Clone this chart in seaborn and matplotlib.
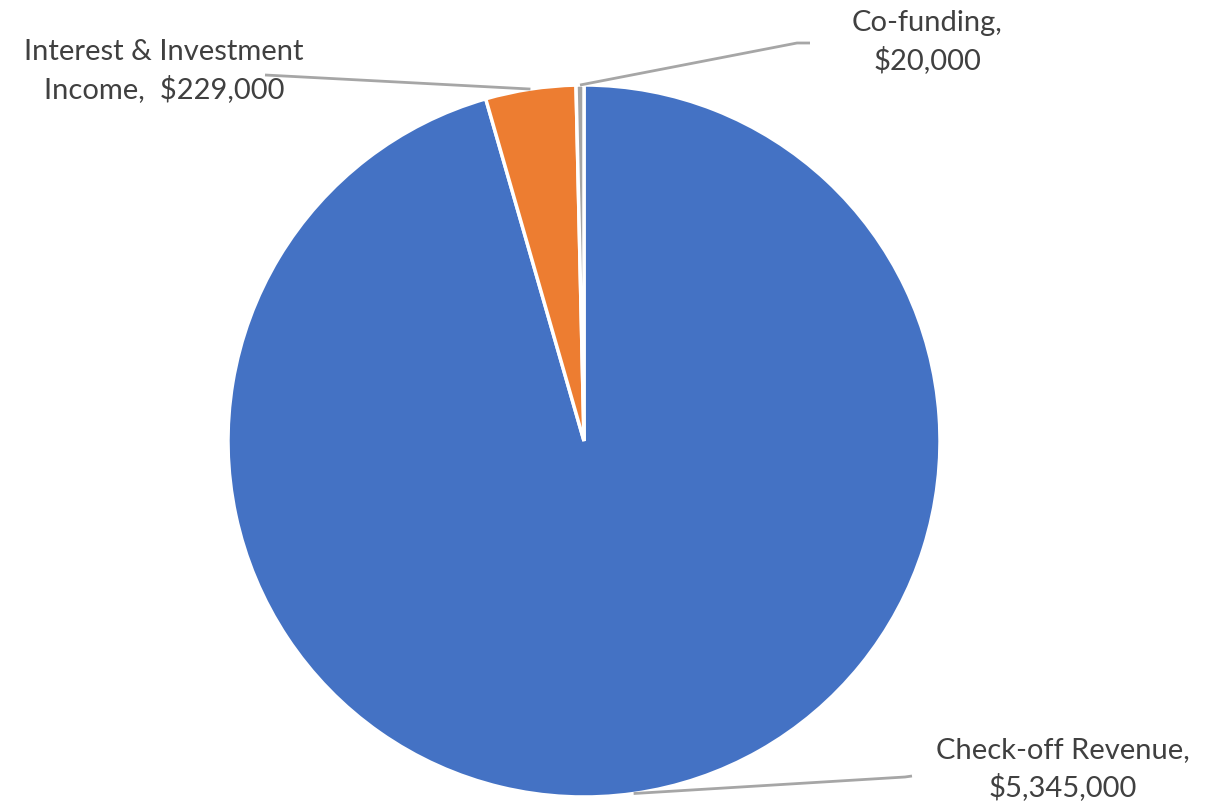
import numpy as np
import matplotlib
matplotlib.use("Agg")
import matplotlib.pyplot as plt
import seaborn as sns

categories = ["Check-off Revenue", "Interest & Investment Income", "Co-funding"]
values = [5345000, 229000, 20000]
label_texts = ["Check-off Revenue,\n$5,345,000",
               "Interest & Investment\nIncome,  $229,000",
               "Co-funding,\n$20,000"]
colors = ["#4472C4", "#ED7D31", "#A5A5A5"]

sns.set_theme(style="white")
plt.rcParams['font.family'] = ['Lato', 'DejaVu Sans']

W, H = 1215, 807
fig = plt.figure(figsize=(W / 100, H / 100), dpi=100)
cx, cy, r = 584, 441, 356
ax = fig.add_axes([(cx - r) / W, (H - cy - r) / H, 2 * r / W, 2 * r / H])

wedges, _ = ax.pie(values, colors=colors, startangle=90, counterclock=False,
                   radius=1.0, wedgeprops=dict(edgecolor="white", linewidth=2.5))
ax.set_xlim(-1, 1)
ax.set_ylim(-1, 1)
ax.axis("off")

def px(x, y):
    return ((x - cx) / r, (cy - y) / r)

# leader line elbows / ends and text centers (pixel space)
leaders = {
    0: ([(905, 777), (912, 776)], (1063, 769)),
    1: ([(265, 75)], (164, 71)),
    2: ([(797, 43), (810, 43)], (927, 42)),
}
total = sum(values)
cum = 0
for i, v in enumerate(values):
    mid = 90 - 360 * (cum + v / 2) / total
    cum += v
    ax_x, ax_y = np.cos(np.radians(mid)), np.sin(np.radians(mid))
    pts, tc = leaders[i]
    xs = [ax_x] + [px(*p)[0] for p in pts]
    ys = [ax_y] + [px(*p)[1] for p in pts]
    ax.plot(xs, ys, color="#A6A6A6", lw=2, clip_on=False, solid_capstyle="butt")
    tx, ty = px(*tc)
    ax.text(tx, ty, label_texts[i], ha="center", va="center", fontsize=21,
            color="#404040", linespacing=1.45, clip_on=False)

fig.savefig("out.png", dpi=100)
